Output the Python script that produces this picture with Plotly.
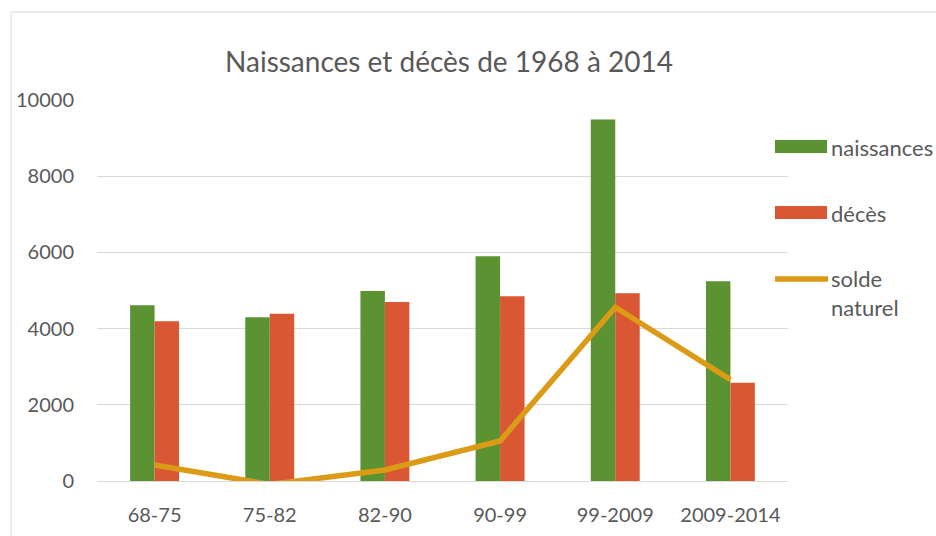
import plotly.graph_objects as go

categories = ["68-75", "75-82", "82-90", "90-99", "99-2009", "2009-2014"]
naissances = [4610, 4300, 4990, 5900, 9490, 5240]
deces = [4190, 4390, 4700, 4850, 4930, 2580]
solde_naturel = [420, -90, 290, 1050, 4560, 2660]
series_names = ["naissances", "décès", "solde<br>naturel"]
y_ticks = [0, 2000, 4000, 6000, 8000, 10000]

GREEN = "#5B9232"
RED = "#D95733"
GOLD = "#DC9B17"
TEXT = "#595959"
GRID = "#D9D9D9"
FONT = "Lato"

W, H = 936, 536
ML, MR, MT, MB = 97, 148, 100, 55
PW = W - ML - MR
PH = H - MT - MB


def px(x):
    return (x - ML) / PW


def py(y):
    return (H - MB - y) / PH


fig = go.Figure()
fig.add_trace(go.Bar(x=categories, y=naissances, name=series_names[0],
                     marker=dict(color=GREEN, line=dict(width=0))))
fig.add_trace(go.Bar(x=categories, y=deces, name=series_names[1],
                     marker=dict(color=RED, line=dict(width=0))))
fig.add_trace(go.Scatter(x=categories, y=solde_naturel, name=series_names[2],
                         mode="lines", line=dict(color=GOLD, width=5.5)))

shapes = [
    # chart border
    dict(type="rect", xref="paper", yref="paper",
         x0=px(11), x1=px(960), y0=py(560), y1=py(12),
         line=dict(color=GRID, width=1), fillcolor="rgba(0,0,0,0)", layer="below"),
    # custom legend swatches
    dict(type="rect", xref="paper", yref="paper",
         x0=px(775), x1=px(827), y0=py(153), y1=py(140),
         fillcolor=GREEN, line=dict(width=0)),
    dict(type="rect", xref="paper", yref="paper",
         x0=px(775), x1=px(827), y0=py(219), y1=py(206),
         fillcolor=RED, line=dict(width=0)),
    dict(type="line", xref="paper", yref="paper",
         x0=px(775), x1=px(828), y0=py(279), y1=py(279),
         line=dict(color=GOLD, width=5.5)),
]

LEG_SIZE = 22
annotations = [
    dict(text=series_names[0], xref="paper", yref="paper", x=px(829), y=py(147),
         xanchor="left", yanchor="middle", showarrow=False,
         font=dict(family=FONT, size=LEG_SIZE, color=TEXT)),
    dict(text=series_names[1], xref="paper", yref="paper", x=px(829), y=py(213),
         xanchor="left", yanchor="middle", showarrow=False,
         font=dict(family=FONT, size=LEG_SIZE, color=TEXT)),
    dict(text=series_names[2], xref="paper", yref="paper", x=px(829), y=py(293),
         xanchor="left", yanchor="middle", showarrow=False, align="left",
         font=dict(family=FONT, size=LEG_SIZE, color=TEXT)),
]

fig.update_layout(
    width=W, height=H,
    margin=dict(l=ML, r=MR, t=MT, b=MB, autoexpand=False),
    paper_bgcolor="white", plot_bgcolor="white",
    barmode="group", bargap=0.575, bargroupgap=0,
    showlegend=False,
    font=dict(family=FONT, size=20, color=TEXT),
    title=dict(text="Naissances et décès de 1968 à 2014",
               x=449 / W, xref="container", xanchor="center",
               y=1 - 62 / H, yref="container", yanchor="middle",
               font=dict(family=FONT, size=28, color=TEXT)),
    shapes=shapes,
    annotations=annotations,
)
fig.update_xaxes(showgrid=False, showline=False, zeroline=False, ticks="",
                 ticklabelstandoff=20,
                 tickfont=dict(family=FONT, size=20, color=TEXT))
fig.update_yaxes(range=[0, 10000], tickvals=y_ticks, tickformat="d",
                 showgrid=True, gridcolor=GRID, gridwidth=1,
                 zeroline=True, zerolinecolor=GRID, zerolinewidth=1,
                 showline=False, ticks="", ticklabelstandoff=22,
                 tickfont=dict(family=FONT, size=20, color=TEXT))

fig.write_html("out.html", config={"displayModeBar": False},
               post_script="document.body.style.margin='0';document.body.style.overflow='hidden';")
